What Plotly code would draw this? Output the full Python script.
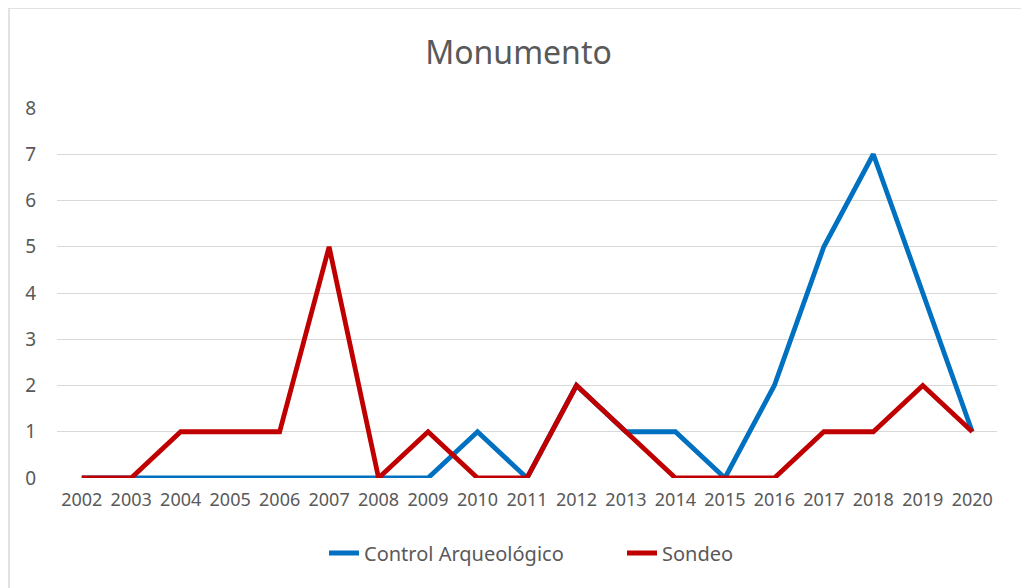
import plotly.graph_objects as go

years = [str(y) for y in range(2002, 2021)]
control = [0, 0, 0, 0, 0, 0, 0, 0, 1, 0, 2, 1, 1, 0, 2, 5, 7, 4, 1]
sondeo = [0, 0, 1, 1, 1, 5, 0, 1, 0, 0, 2, 1, 0, 0, 0, 1, 1, 2, 1]

OFF = 8  # page body margin
W, H = 1029 - OFF, 588 - OFF
L, R, T, B = 57 - OFF, 997 - OFF, 108 - OFF, 478 - OFF

fig = go.Figure()
fig.add_trace(go.Scatter(x=years, y=control, mode="lines", name="Control Arqueológico",
                         line=dict(color="#0070C0", width=4.8)))
fig.add_trace(go.Scatter(x=years, y=sondeo, mode="lines", name="Sondeo",
                         line=dict(color="#C00000", width=4.8)))

def px_x(p):
    return (p - OFF - L) / (R - L)

def px_y(p):
    return (B - (p - OFF)) / (B - T)

fig.update_layout(
    width=W, height=H,
    margin=dict(l=L, r=W - R, t=T, b=H - B, autoexpand=False),
    paper_bgcolor="white", plot_bgcolor="white",
    font=dict(family="Noto Sans", color="#595959", size=16),
    title=dict(text="Monumento", x=0.5, xanchor="center", y=1 - (53 - OFF) / H, yanchor="middle",
               font=dict(size=32, color="#595959", family="Noto Sans")),
    showlegend=True,
    legend=dict(orientation="h", x=px_x(324), xanchor="left", y=px_y(553), yanchor="middle",
                font=dict(size=20, color="#595959"), tracegroupgap=0, entrywidth=253),
    xaxis=dict(type="category", range=[-0.5, 18.5], showgrid=False, showline=False,
               zeroline=False, ticks="", tickfont=dict(size=18, color="#595959"),
               ticklabelstandoff=9),
    yaxis=dict(range=[0, 8], dtick=1, showgrid=True, gridcolor="#D9D9D9", gridwidth=1,
               zeroline=False, showline=False, ticks="", tickfont=dict(size=19, color="#595959"),
               ticklabelstandoff=20),
    shapes=[dict(type="rect", xref="paper", yref="paper",
                 x0=px_x(9), x1=px_x(1022), y0=px_y(600), y1=px_y(8),
                 line=dict(color="#D9D9D9", width=1.5), fillcolor="rgba(0,0,0,0)", layer="below")],
)

fig.write_html("out.html")
